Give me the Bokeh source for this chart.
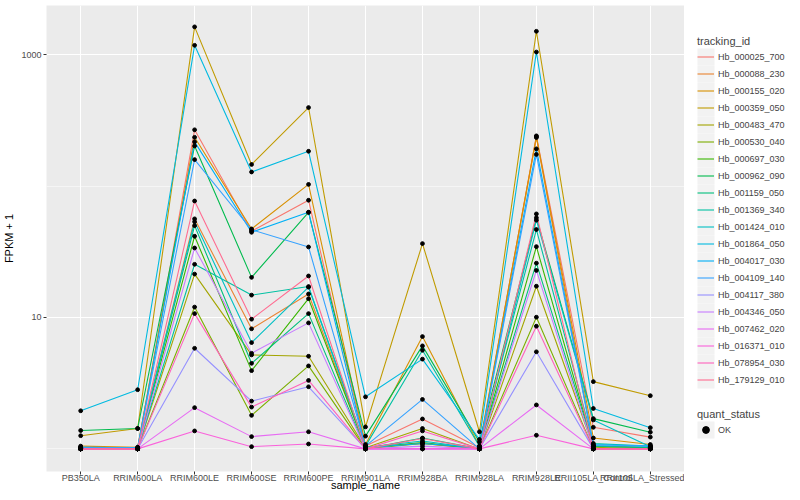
from bokeh.plotting import figure
from bokeh.layouts import row
from bokeh.models import (ColumnDataSource, FactorRange, Range1d, FixedTicker,
                          Legend, LegendItem, BasicTickFormatter)
from bokeh.embed import file_html
from bokeh.resources import INLINE

samples = ["PB350LA", "RRIM600LA", "RRIM600LE", "RRIM600SE", "RRIM600PE",
           "RRIM901LA", "RRIM928BA", "RRIM928LA", "RRIM928LE",
           "RRII105LA_Control", "RRII105LA_Stressed"]

tracking_ids = ["Hb_000025_700", "Hb_000088_230", "Hb_000155_020", "Hb_000359_050",
                "Hb_000483_470", "Hb_000530_040", "Hb_000697_030", "Hb_000962_090",
                "Hb_001159_050", "Hb_001369_340", "Hb_001424_010", "Hb_001864_050",
                "Hb_004017_030", "Hb_004109_140", "Hb_004117_380", "Hb_004346_050",
                "Hb_007462_020", "Hb_016371_010", "Hb_078954_030", "Hb_179129_010"]

quant_status = ["OK"]

# FPKM + 1 per sample (order of `samples`)
hb_000025_700 = [1.02, 1.00, 268, 45.3, 78.0, 1.05, 1.69, 1.02, 241, 1.46, 1.23]
hb_000088_230 = [1.00, 1.00, 56.3, 8.2, 15.1, 1.03, 1.10, 1.00, 234, 1.05, 1.02]
hb_000155_020 = [1.05, 1.03, 235, 47.2, 103, 1.08, 7.16, 1.05, 238, 1.21, 1.08]
hb_000359_050 = [1.26, 1.43, 1627, 146, 396, 1.47, 36.5, 1.35, 1506, 3.25, 2.54]
hb_000483_470 = [1.00, 1.00, 21.4, 5.19, 5.07, 1.02, 1.43, 1.00, 17.3, 1.03, 1.00]
hb_000530_040 = [1.00, 1.00, 12.0, 1.80, 4.28, 1.00, 1.10, 1.00, 10.05, 1.00, 1.00]
hb_000697_030 = [1.00, 1.00, 41.5, 3.94, 13.9, 1.02, 1.12, 1.00, 34.6, 1.05, 1.03]
hb_000962_090 = [1.38, 1.43, 202, 20.2, 63.0, 1.25, 6.08, 1.13, 57.4, 1.70, 1.34]
hb_001159_050 = [1.00, 1.00, 50.0, 4.48, 10.7, 1.00, 1.21, 1.00, 25.9, 1.05, 1.02]
hb_001369_340 = [1.00, 1.00, 25.4, 14.8, 17.2, 1.05, 5.63, 1.05, 46.7, 1.10, 1.05]
hb_001424_010 = [1.02, 1.02, 53.6, 6.44, 17.0, 1.03, 1.15, 1.00, 55.0, 1.66, 1.04]
hb_001864_050 = [1.95, 2.82, 1178, 128, 184, 2.49, 4.82, 1.18, 1047, 2.03, 1.45]
hb_004017_030 = [1.03, 1.02, 217, 44.5, 63.3, 1.02, 1.10, 1.02, 192, 1.08, 1.05]
hb_004109_140 = [1.03, 1.02, 159, 46.5, 34.4, 1.05, 2.38, 1.00, 174, 1.06, 1.05]
hb_004117_380 = [1.00, 1.00, 5.83, 2.31, 2.97, 1.00, 1.00, 1.00, 5.48, 1.00, 1.00]
hb_004346_050 = [1.00, 1.00, 33.8, 5.34, 9.1, 1.00, 1.05, 1.00, 22.8, 1.00, 1.00]
hb_007462_020 = [1.00, 1.00, 2.06, 1.24, 1.35, 1.00, 1.00, 1.00, 2.16, 1.00, 1.00]
hb_016371_010 = [1.00, 1.00, 1.37, 1.04, 1.09, 1.00, 1.00, 1.00, 1.27, 1.00, 1.00]
hb_078954_030 = [1.00, 1.00, 10.7, 2.08, 3.32, 1.00, 1.37, 1.00, 8.58, 1.00, 1.00]
hb_179129_010 = [1.00, 1.00, 77.0, 9.7, 20.7, 1.00, 1.20, 1.00, 61.4, 1.00, 1.00]

series_values = [hb_000025_700, hb_000088_230, hb_000155_020, hb_000359_050,
                 hb_000483_470, hb_000530_040, hb_000697_030, hb_000962_090,
                 hb_001159_050, hb_001369_340, hb_001424_010, hb_001864_050,
                 hb_004017_030, hb_004109_140, hb_004117_380, hb_004346_050,
                 hb_007462_020, hb_016371_010, hb_078954_030, hb_179129_010]

palette = ["#F8766D", "#EA8331", "#D89000", "#C09B00", "#A3A500", "#7CAE00",
           "#39B600", "#00BB4E", "#00BF7D", "#00C1A3", "#00BFC4", "#00BAE0",
           "#00B0F6", "#35A2FF", "#9590FF", "#C77CFF", "#E76BF3", "#FA62DB",
           "#FF62BC", "#FF6C91"]

FONT = "Liberation Sans"
H = 493

# ---------------- main panel ----------------
p = figure(width=684, height=H, output_backend="svg", toolbar_location=None,
           x_range=FactorRange(factors=samples, range_padding=0.1,
                               range_padding_units="absolute"),
           y_axis_type="log", y_range=Range1d(0.673, 2366),
           min_border_top=5, min_border_left=37, min_border_right=0,
           min_border_bottom=0)
p.background_fill_color = "#EBEBEB"
p.border_fill_color = "white"
p.outline_line_color = None

for vals, col in zip(series_values, palette):
    src = ColumnDataSource(dict(x=samples, y=vals))
    p.line("x", "y", source=src, line_color=col, line_width=1.1)

for vals in series_values:
    src = ColumnDataSource(dict(x=samples, y=vals))
    p.scatter("x", "y", source=src, marker="circle", size=3.8,
              fill_color="black", line_color="black")

p.yaxis.ticker = FixedTicker(ticks=[10, 1000], minor_ticks=[1, 100, 10000])
p.yaxis.formatter = BasicTickFormatter()
p.yaxis.major_label_overrides = {10: "10", 1000: "1000"}
for ax in (p.xaxis[0], p.yaxis[0]):
    ax.axis_line_color = None
    ax.major_tick_line_color = "#333333"
    ax.major_tick_out = 3
    ax.major_tick_in = 0
    ax.minor_tick_out = 0
    ax.minor_tick_in = 0
    ax.major_label_text_font = FONT
    ax.major_label_text_font_size = "9px"
    ax.major_label_text_color = "#4D4D4D"
    ax.axis_label_text_font = FONT
    ax.axis_label_text_font_size = "11px"
    ax.axis_label_text_font_style = "normal"
    ax.axis_label_text_color = "black"
p.xaxis.major_label_standoff = -2
p.xaxis.axis_label_standoff = -7
p.yaxis.axis_label_standoff = 3
p.yaxis.major_label_standoff = 2
p.xaxis.axis_label = "sample_name"
p.yaxis.axis_label = "FPKM + 1"

p.xgrid.grid_line_color = "white"
p.xgrid.grid_line_width = 1
p.ygrid.grid_line_color = "white"
p.ygrid.grid_line_width = 1
p.ygrid.minor_grid_line_color = "white"
p.ygrid.minor_grid_line_width = 0.5

# ---------------- legend panel ----------------
# The row aligns this panel's frame with the main frame (page y 5 .. 471).
LW = 108
KEY = 17
KX = 13          # left of legend keys inside legend panel
FRAME_TOP = 5
FRAME_BOT = 471
LEG1_BOT = 388   # bottom of "tracking_id" legend (page px)
LEG2_BOT = 438   # bottom of "quant_status" legend (page px)
KEY1_TOP = 48    # top of first tracking_id key

lg = figure(width=LW, height=H, output_backend="svg", toolbar_location=None,
            x_range=Range1d(0, LW), y_range=Range1d(FRAME_BOT, FRAME_TOP),
            x_axis_location=None, y_axis_location=None, min_border=0)
lg.grid.visible = False
lg.outline_line_color = None
lg.background_fill_color = "white"
lg.border_fill_color = "white"

n = len(tracking_ids)
lg.quad(left=[KX] * n, right=[KX + KEY] * n,
        top=[KEY1_TOP + KEY * i for i in range(n)],
        bottom=[KEY1_TOP + KEY * (i + 1) for i in range(n)],
        fill_color="#F2F2F2", line_color=None)
lg.quad(left=[KX], right=[KX + KEY], top=[LEG2_BOT - KEY], bottom=[LEG2_BOT],
        fill_color="#F2F2F2", line_color=None)

dummy_lines = [lg.line(x=[-50, -40], y=[-50, -40], line_color=c, line_width=1.1)
               for c in palette]
dummy_pt = lg.scatter(x=[-50], y=[-50], marker="circle", size=3.8,
                      fill_color="black", line_color="black")

def style_legend(L):
    L.border_line_color = None
    L.background_fill_alpha = 0
    L.padding = 0
    L.margin = 0
    L.spacing = 0
    L.glyph_width = KEY
    L.glyph_height = KEY
    L.label_height = KEY
    L.label_standoff = 4
    L.label_text_font = FONT
    L.label_text_font_size = "9px"
    L.label_text_baseline = "middle"
    L.title_text_font = FONT
    L.title_text_font_size = "11px"
    L.title_text_font_style = "normal"
    L.title_standoff = 1

legend1 = Legend(items=[LegendItem(label=t, renderers=[r])
                        for t, r in zip(tracking_ids, dummy_lines)],
                 title="tracking_id", location=(KX, FRAME_BOT - LEG1_BOT))
style_legend(legend1)
legend2 = Legend(items=[LegendItem(label=quant_status[0], renderers=[dummy_pt])],
                 title="quant_status", location=(KX, FRAME_BOT - LEG2_BOT))
style_legend(legend2)
lg.add_layout(legend1)
lg.add_layout(legend2)

layout = row(p, lg, spacing=0)
open("out.html", "w").write(file_html(layout, INLINE))
